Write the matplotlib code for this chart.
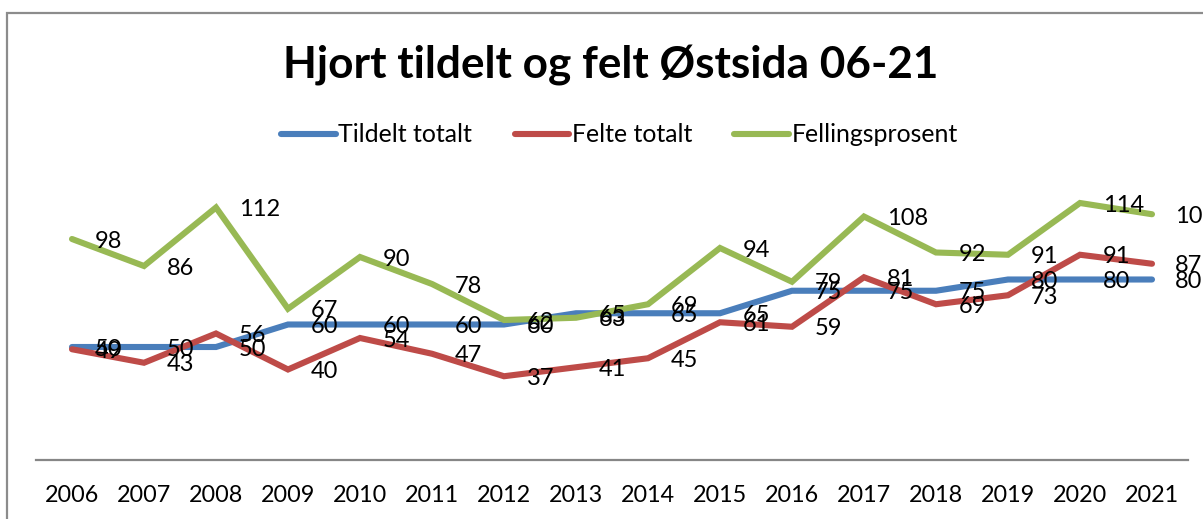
import matplotlib
matplotlib.use("Agg")
import matplotlib.pyplot as plt
from matplotlib.patches import Rectangle
from matplotlib.lines import Line2D

plt.rcParams['font.family'] = ['Lato', 'DejaVu Sans']

years = ["2006", "2007", "2008", "2009", "2010", "2011", "2012", "2013",
         "2014", "2015", "2016", "2017", "2018", "2019", "2020", "2021"]
tildelt = [50, 50, 50, 60, 60, 60, 60, 65, 65, 65, 75, 75, 75, 80, 80, 80]
felte = [49, 43, 56, 40, 54, 47, 37, 41, 45, 61, 59, 81, 69, 73, 91, 87]
fellingsprosent = [98, 86, 112, 67, 90, 78, 62, 63, 69, 94, 79, 108, 92, 91, 114, 109]

series = [
    ("Tildelt totalt", tildelt, "#4A7EBB"),
    ("Felte totalt", felte, "#BE4B48"),
    ("Fellingsprosent", fellingsprosent, "#98B954"),
]

W, H = 1203, 519
fig = plt.figure(figsize=(W / 100, H / 100), dpi=100)
fig.patch.set_facecolor("white")

# chart area border
fig.patches.append(Rectangle((7 / W, -0.1), 1.2, (H - 13) / H + 0.1,
                             transform=fig.transFigure, fill=False,
                             edgecolor="#8C8C8C", linewidth=1.6, zorder=0))

ax = fig.add_axes([36 / W, (H - 459.5) / H, (1188 - 36) / W, (459.5 - 189.5) / H])
x = list(range(len(years)))

for name, vals, col in series:
    ax.plot(x, vals, color=col, linewidth=4.4, solid_capstyle="round",
            solid_joinstyle="miter", label=name, clip_on=False)

for name, vals, col in series:
    for xi, v in zip(x, vals):
        ax.annotate(str(v), (xi, v), xytext=(16.5, -1.5), textcoords="offset points",
                    ha="left", va="center", fontsize=17, color="black",
                    annotation_clip=False, zorder=10)

ax.set_xlim(-0.5, len(years) - 0.5)
ax.set_ylim(0, 120)
ax.set_xticks(x)
ax.set_xticklabels(years, fontsize=16.8)
ax.tick_params(axis="x", length=0, pad=18)
ax.set_yticks([])
for s in ["top", "left", "right"]:
    ax.spines[s].set_visible(False)
ax.spines["bottom"].set_color("#868686")
ax.spines["bottom"].set_linewidth(1.6)
ax.patch.set_alpha(0)

fig.text(0.508, (H - 66) / H, "Hjort tildelt og felt Østsida 06-21",
         ha="center", va="center", fontsize=31.8, fontweight="bold")

handles = [Line2D([0], [0], color=c, linewidth=4.4, solid_capstyle="round")
           for _, _, c in series]
fig.legend(handles, [n for n, _, _ in series], loc="center",
           bbox_to_anchor=(0.515, (H - 135) / H), ncol=3, frameon=False,
           fontsize=17.9, handlelength=2.2, handletextpad=0.1, columnspacing=1.7)

fig.savefig("out.png", dpi=100, facecolor="white")
